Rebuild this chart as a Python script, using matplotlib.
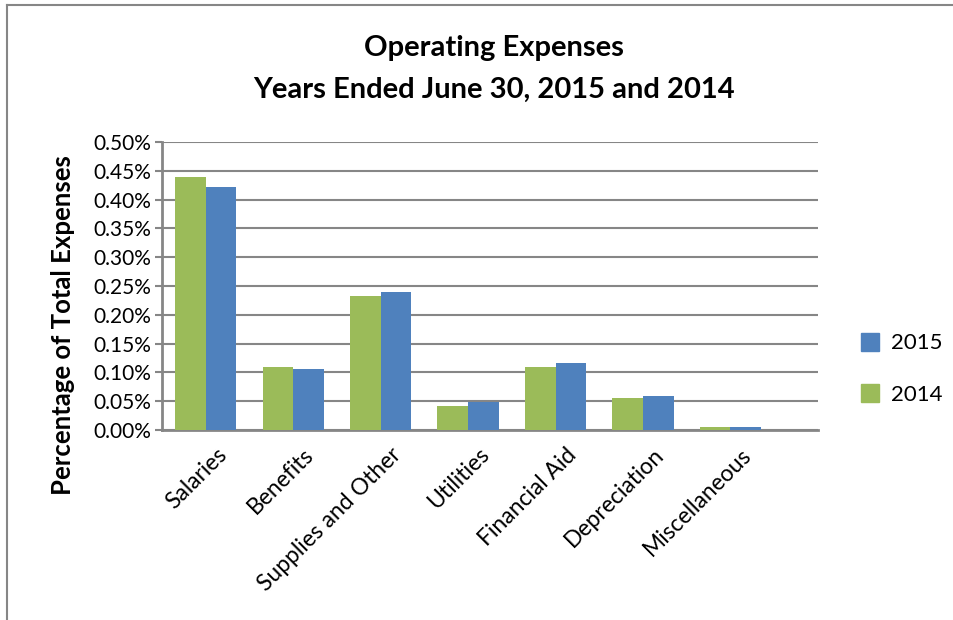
import numpy as np
import matplotlib.pyplot as plt
from matplotlib.lines import Line2D
from matplotlib.patches import Patch
from matplotlib.transforms import ScaledTranslation

plt.rcParams['font.family'] = ['Lato', 'DejaVu Sans']

categories = ['Salaries', 'Benefits', 'Supplies and Other', 'Utilities',
              'Financial Aid', 'Depreciation', 'Miscellaneous']
y2014 = [0.439, 0.109, 0.233, 0.041, 0.109, 0.055, 0.005]
y2015 = [0.421, 0.106, 0.240, 0.049, 0.117, 0.059, 0.005]
yticks = [0.0, 0.05, 0.10, 0.15, 0.20, 0.25, 0.30, 0.35, 0.40, 0.45, 0.50]

green = '#9BBB59'
blue = '#4F81BD'
gray = '#868686'

fig = plt.figure(figsize=(9.54, 6.20), dpi=100)
ax = fig.add_axes([0.1698, 0.3065, 0.6876, 0.4645])

x = np.arange(len(categories))
w = 0.35
ax.bar(x - w/2, y2014, w, color=green, zorder=3)
ax.bar(x + w/2, y2015, w, color=blue, zorder=3)

# the plot area runs on a bit past the last category
ax.set_xlim(-0.5, len(categories))
ax.set_ylim(0, 0.5)
ax.set_yticks(yticks)
ax.set_yticklabels(['%.2f%%' % v for v in yticks], fontsize=15)
ax.yaxis.grid(True, color=gray, linewidth=1.5, zorder=0)
ax.tick_params(axis='y', length=5, width=1.5, color=gray, direction='out', pad=3)
ax.tick_params(axis='x', length=0, pad=8)
ax.set_xticks(x)
ax.set_xticklabels(categories, rotation=45, ha='right', rotation_mode='anchor', fontsize=16.5)
shift = ScaledTranslation(0.10, -0.03, fig.dpi_scale_trans)
for lbl in ax.get_xticklabels():
    lbl.set_transform(lbl.get_transform() + shift)

for s in ['top', 'right']:
    ax.spines[s].set_visible(False)
for s in ['left', 'bottom']:
    ax.spines[s].set_color(gray)
    ax.spines[s].set_linewidth(2)

ax.set_ylabel('Percentage of Total Expenses', fontsize=18.5, fontweight='bold')
ax.yaxis.set_label_coords(-0.1326, 0.365)

fig.text(0.518, 0.922, 'Operating Expenses', ha='center', va='center',
         fontsize=21, fontweight='bold')
fig.text(0.518, 0.855, 'Years Ended June 30, 2015 and 2014', ha='center', va='center',
         fontsize=21, fontweight='bold')

handles = [Patch(color=blue), Patch(color=green)]
fig.legend(handles, ['2015', '2014'], loc='center left', bbox_to_anchor=(0.902, 0.405),
           frameon=False, fontsize=16, handlelength=0.85, handleheight=0.85,
           labelspacing=1.4, handletextpad=0.5, borderpad=0, borderaxespad=0)

# chart border
fig.add_artist(Line2D([0.007, 0.007], [0, 0.992], color=gray, linewidth=1.5))
fig.add_artist(Line2D([0.007, 1.0], [0.992, 0.992], color=gray, linewidth=1.5))

fig.savefig('out.png', dpi=100)
